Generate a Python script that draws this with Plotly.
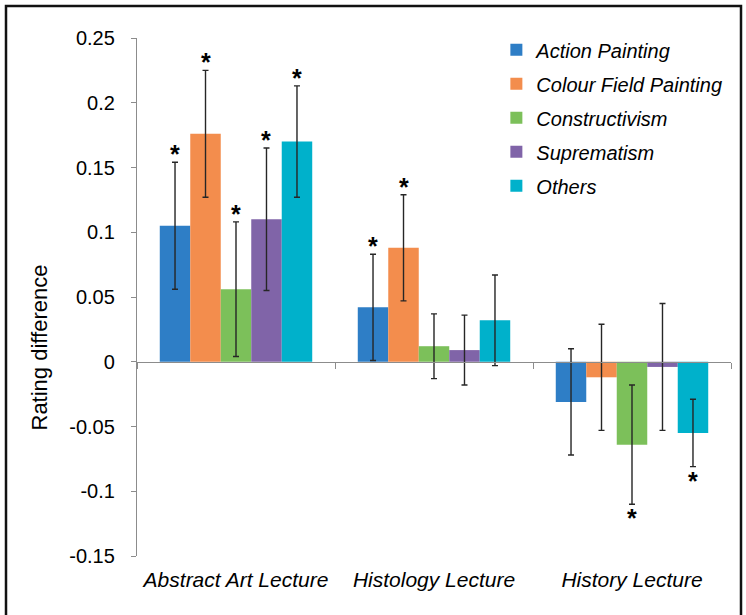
import plotly.graph_objects as go

categories = ["Abstract Art Lecture", "Histology Lecture", "History Lecture"]
series = ["Action Painting", "Colour Field Painting", "Constructivism", "Suprematism", "Others"]
colors = ["#2E7EC6", "#F38D4D", "#7CC05A", "#8064A8", "#00B1CB"]

action = [0.105, 0.042, -0.031]
colour = [0.176, 0.088, -0.012]
constr = [0.056, 0.012, -0.064]
suprem = [0.110, 0.009, -0.004]
others = [0.170, 0.032, -0.055]

action_err = [0.049, 0.041, 0.041]
colour_err = [0.049, 0.041, 0.041]
constr_err = [0.052, 0.025, 0.046]
suprem_err = [0.055, 0.027, 0.049]
others_err = [0.043, 0.035, 0.026]

action_sig = [True, True, False]
colour_sig = [True, True, False]
constr_sig = [True, False, True]
suprem_sig = [True, False, False]
others_sig = [True, False, True]

y_tickvals = [0.25, 0.2, 0.15, 0.1, 0.05, 0, -0.05, -0.1, -0.15]
y_ticktext = ["0.25", "0.2", "0.15", "0.1", "0.05", "0", "-0.05", "-0.1", "-0.15"]
y_title = "Rating difference"

values = [action, colour, constr, suprem, others]
errors = [action_err, colour_err, constr_err, suprem_err, others_err]
sigs = [action_sig, colour_sig, constr_sig, suprem_sig, others_sig]

FONT = "Liberation Sans, Arial, sans-serif"
ymin, ymax = -0.15, 0.25
BARGAP = 0.23
nser = len(series)
bw = (1 - BARGAP) / nser

fig = go.Figure()
for i, name in enumerate(series):
    fig.add_trace(go.Bar(
        x=categories, y=values[i], name=name,
        marker=dict(color=colors[i], line=dict(width=0)),
        legendgroup=str(i),
        error_y=dict(type="data", array=errors[i], visible=True,
                     color="#262626", thickness=1.4, width=3),
    ))

annotations = []
for i in range(nser):
    for ci, (v, e, s) in enumerate(zip(values[i], errors[i], sigs[i])):
        if not s:
            continue
        xpos = ci + (i - (nser - 1) / 2) * bw
        if v >= 0:
            annotations.append(dict(x=xpos, y=v + e, xref="x", yref="y", text="*",
                                    showarrow=False, yanchor="middle", yshift=8,
                                    font=dict(size=25, color="#000", family=FONT, weight="bold")))
        else:
            annotations.append(dict(x=xpos, y=v - e, xref="x", yref="y", text="*",
                                    showarrow=False, yanchor="middle", yshift=-14,
                                    font=dict(size=25, color="#000", family=FONT, weight="bold")))

annotations.append(dict(x=(39 - 137) / 594, y=(556 - 347.5) / 518, xref="paper", yref="paper",
                        text=y_title, textangle=-90, showarrow=False,
                        xanchor="center", yanchor="middle",
                        font=dict(size=22, color="#000", family=FONT)))

fig.update_layout(
    width=746, height=615,
    margin=dict(l=137, r=15, t=38, b=59, autoexpand=False),
    paper_bgcolor="white", plot_bgcolor="white",
    barmode="group", bargap=BARGAP, bargroupgap=0,
    font=dict(family=FONT, color="#000"),
    showlegend=True,
    annotations=annotations,
    legend=dict(x=0.605, y=1.015, xanchor="left", yanchor="top",
                font=dict(size=20, family=FONT, style="italic"),
                tracegroupgap=5, itemwidth=30, bgcolor="rgba(0,0,0,0)"),
    xaxis=dict(showline=False, ticks="", showgrid=False, zeroline=False,
               tickfont=dict(size=21, family=FONT, style="italic"),
               ticklabelstandoff=9),
    xaxis2=dict(overlaying="x", anchor="free", position=(0 - ymin) / (ymax - ymin),
                range=[-0.5, 2.5], tickvals=[-0.5, 0.5, 1.5, 2.5], ticks="outside",
                ticklen=6, tickcolor="#8c8c8c", showline=True, linecolor="#8c8c8c",
                linewidth=1.3, showticklabels=False, showgrid=False, zeroline=False,
                side="bottom"),
    yaxis=dict(range=[ymin, ymax], tickvals=y_tickvals, ticktext=y_ticktext,
               showline=True, linecolor="#8c8c8c", linewidth=1.3,
               ticks="outside", ticklen=5, tickcolor="#8c8c8c",
               showgrid=False, zeroline=False,
               tickfont=dict(size=20, family=FONT), ticklabelstandoff=12),
)
fig.add_trace(go.Scatter(x=[0], y=[0], xaxis="x2", mode="markers",
                         marker=dict(opacity=0), showlegend=False, hoverinfo="skip"))

fig.add_shape(type="rect", xref="paper", yref="paper",
              x0=(6 - 137) / 594, x1=(741 - 137) / 594,
              y0=-0.2, y1=(556 - 6) / 518,
              line=dict(color="#111", width=2.5), fillcolor="rgba(0,0,0,0)", layer="below")

fig.write_html("out.html", config={"displayModeBar": False},
               post_script="document.body.style.margin='0px';")
